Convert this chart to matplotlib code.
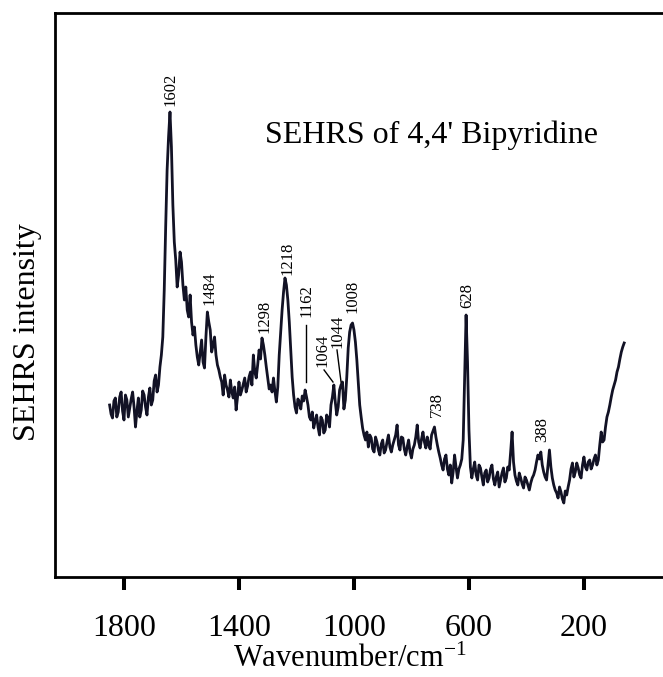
import numpy as np
import matplotlib
matplotlib.use("Agg")
import matplotlib.pyplot as plt

plt.rcParams['font.family'] = ['Liberation Serif', 'DejaVu Serif']
plt.rcParams['mathtext.fontset'] = 'custom'
plt.rcParams['mathtext.rm'] = 'Liberation Serif'
plt.rcParams['mathtext.default'] = 'regular'

# ---- data ----
wavenumber = np.arange(1850, 59, -5)  # cm^-1, sampling grid (1850 ... 60)
intensity = [
    172, 163, 159, 176, 179, 160, 165, 180, 185, 166,   # 1850-1805
    157, 182, 177, 160, 169, 178, 185, 170, 150, 166,   # 1800-1755
    179, 160, 167, 186, 182, 170, 162, 180, 189, 172,   # 1750-1705
    177, 196, 202, 185, 192, 210, 222, 240, 287, 350,   # 1700-1655
    407, 440, 465, 430, 372, 335, 317, 290, 302, 325,   # 1650-1605
    315, 292, 277, 290, 267, 260, 282, 255, 242, 250,   # 1600-1555
    232, 220, 212, 225, 237, 215, 209, 240, 265, 255,   # 1550-1505
    247, 225, 232, 240, 222, 212, 207, 200, 195, 182,   # 1500-1455
    202, 192, 187, 180, 197, 185, 179, 190, 167, 180,   # 1450-1405
    195, 182, 187, 193, 199, 185, 191, 200, 205, 192,   # 1400-1355
    222, 205, 199, 212, 227, 218, 239, 232, 222, 210,   # 1350-1305
    199, 188, 192, 185, 199, 186, 175, 190, 222, 245,   # 1300-1255
    267, 285, 299, 292, 277, 255, 227, 200, 182, 170,   # 1250-1205
    164, 178, 175, 168, 181, 176, 187, 180, 172, 160,   # 1200-1155
    157, 165, 149, 156, 162, 150, 142, 160, 157, 144,   # 1150-1105
    147, 162, 159, 150, 172, 180, 192, 175, 162, 170,   # 1100-1055
    187, 192, 195, 168, 177, 200, 229, 245, 252, 254,   # 1050-1005
    247, 235, 217, 195, 172, 160, 149, 142, 137, 145,   # 1000-955
    130, 142, 139, 128, 125, 140, 135, 127, 122, 133,   # 950-905
    137, 124, 127, 135, 142, 130, 125, 132, 137, 142,   # 900-855
    152, 132, 127, 140, 139, 128, 122, 130, 137, 125,   # 850-805
    119, 128, 132, 140, 152, 135, 129, 138, 145, 135,   # 800-755
    129, 140, 132, 128, 142, 146, 150, 140, 132, 125,   # 750-705
    119, 112, 107, 118, 122, 108, 102, 112, 94, 105,    # 700-655
    122, 110, 99, 108, 112, 118, 137, 200, 262, 215,    # 650-605
    147, 110, 99, 108, 115, 102, 97, 112, 109, 100,     # 600-555
    92, 104, 107, 95, 99, 108, 112, 98, 92, 100,        # 550-505
    105, 90, 97, 104, 109, 95, 99, 110, 107, 125,       # 500-455
    145, 115, 102, 96, 92, 104, 99, 93, 89, 100,        # 450-405
    97, 92, 87, 94, 99, 102, 107, 115, 122, 118,        # 400-355
    125, 112, 105, 100, 97, 112, 127, 110, 99, 92,      # 350-305
    87, 84, 79, 90, 85, 78, 74, 86, 82, 90,             # 300-255
    97, 108, 114, 100, 105, 114, 109, 102, 99, 112,     # 250-205
    120, 110, 107, 115, 117, 108, 112, 118, 122, 112,   # 200-155
    117, 132, 145, 135, 137, 150, 160, 165, 172, 180,   # 150-105
    187, 192, 197, 205, 210, 218, 225, 230, 234,        # 100-60
]

peak_labels = ['1602', '1484', '1298', '1218', '1162', '1064', '1044',
               '1008', '738', '628', '388']
label_wn = [1640, 1501, 1313, 1233, 1164, 1111, 1059, 1004, 711, 607, 346]
label_int = [471, 272, 244, 302, 260, 210, 229, 264, 160, 269, 135]

# leader lines for crowded labels: (wn_start, int_start, wn_end, int_end)
leader_lines = [
    (1167, 252, 1167, 195),
    (1104, 207, 1073, 195),
    (1059, 227, 1045, 195),
]

x_ticks = [1800, 1400, 1000, 600, 200]

# ---- figure ----
fig = plt.figure(figsize=(6.63, 6.77), dpi=100)
ax = fig.add_axes([55 / 663, 100 / 677, 1 - 55 / 663, 564 / 677])

n = min(len(wavenumber), len(intensity))
ax.plot(wavenumber[:n], intensity[:n], color='#121225', linewidth=2.0)

ax.set_xlim(2040, -75)
ax.set_ylim(0, 564)

for lab, xw, yi in zip(peak_labels, label_wn, label_int):
    ax.text(xw, yi, lab, rotation=90, ha='center', va='bottom', fontsize=12)

for x0, y0, x1, y1 in leader_lines:
    ax.plot([x0, x1], [y0, y1], color='black', linewidth=1.0)

ax.text(0.345, 0.7695, "SEHRS of 4,4' Bipyridine", transform=ax.transAxes,
        fontsize=23, ha='left', va='baseline')

ax.set_xticks(x_ticks)
ax.set_xticklabels([str(t) for t in x_ticks], fontsize=23)
ax.tick_params(axis='x', direction='out', length=9.5, width=2.9, pad=17)
ax.set_yticks([])

for side in ['left', 'top', 'bottom']:
    ax.spines[side].set_linewidth(2)
ax.spines['right'].set_visible(False)

ax.set_xlabel(r'Wavenumber/cm$^{-1}$', fontsize=22, va='center')
ax.xaxis.set_label_coords((350 - 55) / 608, (577 - 659) / 564)
ax.set_ylabel('SEHRS intensity', fontsize=23, va='center', ha='center')
ax.yaxis.set_label_coords((28 - 55) / 608, (577 - 332) / 564)

fig.savefig('out.png', dpi=100)
